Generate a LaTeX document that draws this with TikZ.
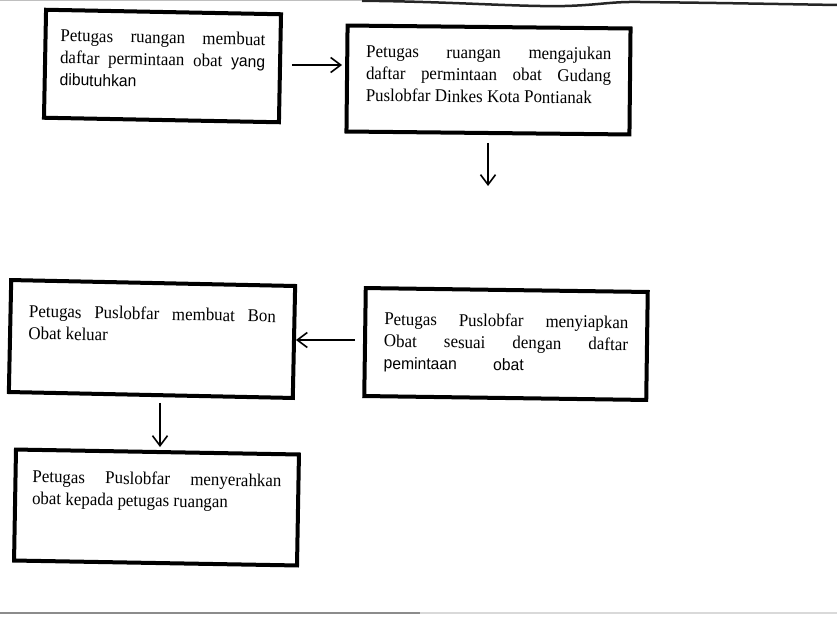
\documentclass[tikz,border=0pt]{standalone}
\usepackage{fontspec}
\setmainfont{Liberation Serif}[FakeStretch=0.94]
\setsansfont{Liberation Sans}[FakeStretch=0.95]
\usetikzlibrary{arrows.meta}
\tikzset{
  stepbox/.style={draw=black, line width=4pt, inner sep=0pt, fill=white},
  arr/.style={line width=1.6pt, -{Straight Barb[length=10pt,width=15pt,line width=1.6pt]}},
}
\newcommand{\boxtxt}[3]{\parbox[c][#1][t]{#2}{\fontsize{18}{22}\selectfont #3}}
\newcommand{\sanspart}[1]{{\sffamily\fontsize{16.5}{22}\selectfont #1}}
\begin{document}
\begin{tikzpicture}[x=1pt,y=-1pt]
\useasboundingbox (0,0) rectangle (837,618);
% scan page edges
\draw[line width=2.5pt, black!85] (362,0.8) .. controls (450,1.5) and (520,7) .. (565,6)
   .. controls (600,5) and (610,1.5) .. (640,2) .. controls (720,3) .. (837,5);
\draw[line width=1.2pt, black!25] (0,0.8) -- (362,0.8);
\draw[line width=2pt, black!45] (0,613) -- (420,613);
\draw[line width=2pt, black!15] (420,613) -- (837,613);

\node[stepbox, rotate=-1.1, minimum width=235pt, minimum height=108pt] (b1) at (162.5,66)
  {\boxtxt{70pt}{205pt}{Petugas ruangan membuat\linebreak daftar permintaan obat \sanspart{yang}\linebreak \sanspart{dibutuhkan}}};
\node[stepbox, rotate=-0.6, minimum width=283pt, minimum height=106pt] (b2) at (488.5,80)
  {\boxtxt{68pt}{245pt}{Petugas ruangan mengajukan\linebreak daftar permintaan obat Gudang\linebreak Puslobfar Dinkes Kota Pontianak}};
\node[stepbox, rotate=-1.2, minimum width=284pt, minimum height=112pt] (b3) at (152,339)
  {\boxtxt{64pt}{247pt}{Petugas Puslobfar membuat Bon\linebreak Obat keluar}};
\node[stepbox, rotate=-0.8, minimum width=282pt, minimum height=108pt] (b4) at (506,344)
  {\boxtxt{60pt}{244pt}{Petugas Puslobfar menyiapkan\linebreak Obat sesuai dengan daftar\linebreak \sanspart{pemintaan\hspace{2.2em}obat}}};
\node[stepbox, rotate=-1.0, minimum width=283pt, minimum height=111pt] (b5) at (156.5,507.5)
  {\boxtxt{71pt}{249pt}{Petugas Puslobfar menyerahkan\linebreak obat kepada petugas ruangan}};

\coordinate (a2end) at (488,186);
\draw[arr, shorten <=10pt, shorten >=3pt] (b1.east |- 0,65) -- (b2.west |- 0,65);
\draw[arr, shorten <=8pt] (b2.south -| 488,0) -- (a2end);
\draw[arr, shorten <=8pt] (b4.west |- 0,340) -- (b3.east |- 0,340);
\draw[arr, shorten <=6pt, shorten >=3pt] (b3.south -| 160,0) -- (b5.north -| 160,0);
\end{tikzpicture}
\end{document}
